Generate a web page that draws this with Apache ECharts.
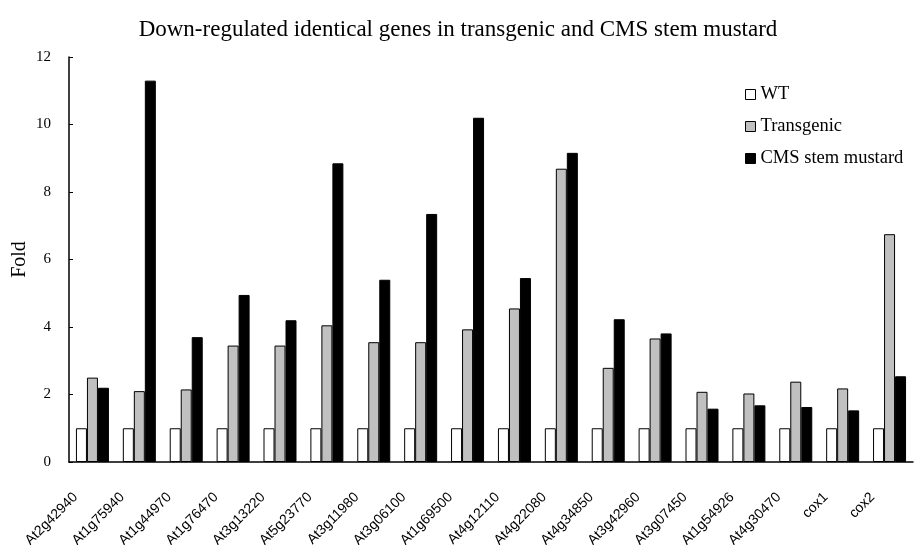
<!DOCTYPE html>
<html>
<head>
<meta charset="utf-8">
<script src="https://cdn.jsdelivr.net/npm/echarts@6/dist/echarts.min.js"></script>
<style>html,body{margin:0;padding:0;background:#fff}#c{width:916px;height:545px}</style>
</head>
<body>
<div id="c"></div>
<script>
const categories = ["At2g42940","At1g75940","At1g44970","At1g76470","At3g13220","At5g23770","At3g11980","At3g06100","At1g69500","At4g12110","At4g22080","At4g34850","At3g42960","At3g07450","At1g54926","At4g30470","cox1","cox2"];
const wt = [1,1,1,1,1,1,1,1,1,1,1,1,1,1,1,1,1,1];
const transgenic = [2.5,2.1,2.15,3.45,3.45,4.05,3.55,3.55,3.93,4.55,8.69,2.79,3.66,2.08,2.03,2.38,2.18,6.75];
const cms = [2.2,11.3,3.7,4.95,4.2,8.85,5.4,7.35,10.2,5.45,9.16,4.23,3.81,1.58,1.68,1.63,1.53,2.54];
const yTicks = [0,2,4,6,8,10,12];

const serif = '"Liberation Serif", "DejaVu Serif", serif';
const sans = '"Liberation Sans", Arial, sans-serif';
const chart = echarts.init(document.getElementById('c'));
const mk = (name, data, color) => ({
  name, type: 'bar', data, barWidth: 11, barGap: '0%',
  itemStyle: { color, borderColor: '#000', borderWidth: 1 }
});
chart.setOption({
  animation: false,
  title: {
    text: 'Down-regulated identical genes in transgenic and CMS stem mustard',
    left: 'center', top: 13,
    textStyle: { fontFamily: serif, fontSize: 23, fontWeight: 'normal', color: '#000' }
  },
  legend: {
    orient: 'vertical', left: 745, top: 85, padding: 0, itemWidth: 10, itemHeight: 10, itemGap: 13,
    icon: 'rect',
    itemStyle: { borderColor: '#000', borderWidth: 1 },
    textStyle: { fontFamily: serif, fontSize: 18.5, color: '#000' },
    data: ['WT','Transgenic','CMS stem mustard']
  },
  grid: { left: 69, right: 3, top: 57, bottom: 83, containLabel: false, outerBoundsMode: 'none' },
  xAxis: {
    type: 'category', data: categories,
    axisLine: { lineStyle: { color: '#000', width: 1.5 } },
    axisTick: { show: false },
    axisLabel: { rotate: 45, interval: 0, margin: 16, padding: [0, 24, 0, 0], fontFamily: sans, fontSize: 14, color: '#000' }
  },
  yAxis: {
    type: 'value', min: yTicks[0], max: yTicks[yTicks.length-1], interval: 2,
    name: 'Fold', nameLocation: 'middle', nameGap: 39, nameMoveOverlap: false,
    nameTextStyle: { fontFamily: serif, fontSize: 20, color: '#000' },
    axisLine: { show: true, lineStyle: { color: '#000', width: 1.5 } },
    axisTick: { show: true, inside: true, length: 4, lineStyle: { color: '#000' } },
    axisLabel: { fontFamily: serif, fontSize: 15, color: '#000', margin: 18 },
    splitLine: { show: false }
  },
  series: [mk('WT', wt, '#ffffff'), mk('Transgenic', transgenic, '#c0c0c0'), mk('CMS stem mustard', cms, '#000000')]
});
</script>
</body>
</html>
